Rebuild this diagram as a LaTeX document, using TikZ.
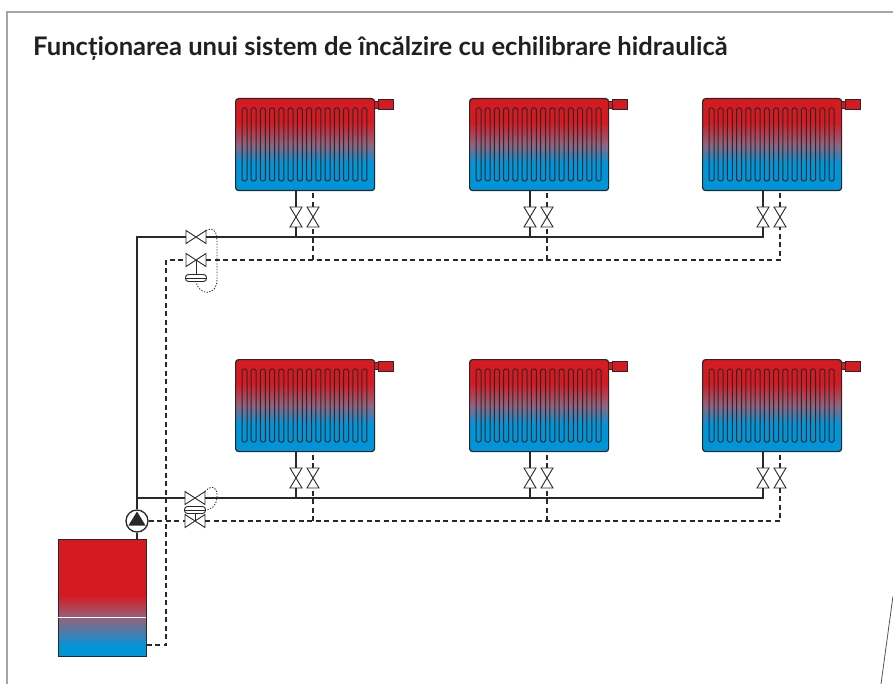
\documentclass[tikz,border=0pt]{standalone}
\usepackage{fontspec}
\setmainfont{Lato}
\usepackage{tikz}

\definecolor{hotred}{RGB}{214,26,34}
\definecolor{coldblue}{RGB}{0,149,216}
\definecolor{mixmauve}{RGB}{145,100,128}
\definecolor{pipegray}{RGB}{40,40,40}
\definecolor{framegray}{RGB}{165,165,165}
\definecolor{titlegray}{RGB}{35,31,32}

% water temperature layers, hot on top
\pgfdeclareverticalshading{radwater}{100bp}{color(0bp)=(coldblue); color(40bp)=(coldblue); color(50bp)=(mixmauve); color(62bp)=(hotred); color(100bp)=(hotred)}
\pgfdeclareverticalshading{tankwater}{100bp}{color(0bp)=(coldblue); color(29bp)=(coldblue); color(41bp)=(mixmauve); color(51bp)=(hotred); color(100bp)=(hotred)}

\tikzset{
    radiator/.style={anchor=north west, draw=pipegray, line width=1.2pt, rounded corners=3pt,
                     shade, shading=radwater, minimum width=139pt, minimum height=92pt, inner sep=0pt},
    fin/.style={draw=pipegray, line width=1pt, rounded corners=1.5pt},
    radcap/.style={draw=pipegray, line width=1pt, fill=hotred},
    valve/.style={minimum width=12pt, minimum height=20pt, inner sep=0pt, outer sep=0pt},
    hvalve/.style={minimum width=20pt, minimum height=13pt, inner sep=0pt, outer sep=0pt},
    valveline/.style={draw=pipegray, line width=0.9pt},
    membrane/.style={draw=pipegray, line width=0.9pt, rounded corners=3pt, fill=white,
                     minimum width=21pt, minimum height=7pt, inner sep=0pt},
    pump/.style={circle, draw=pipegray, line width=1.3pt, fill=white, minimum size=22pt, inner sep=0pt},
    boiler/.style={draw=pipegray, line width=1pt, shade, shading=tankwater,
                   minimum width=88pt, minimum height=117pt, inner sep=0pt},
    supply/.style={draw=pipegray, line width=1.8pt},
    return/.style={draw=pipegray, line width=1.8pt, dash pattern=on 5pt off 3.5pt},
    capillary/.style={draw=pipegray, line width=0.9pt, dash pattern=on 1.2pt off 1.6pt}
}

\begin{document}
\begin{tikzpicture}[x=1pt, y=-1pt]
    \useasboundingbox (0,0) rectangle (893,684);

    % sheet edges
    \draw[framegray, line width=1.4pt] (7,684) -- (7,12) -- (893,12);
    \draw[pipegray!80, line width=0.8pt] (893,596) -- (881,684);

    \node[anchor=base west, inner sep=0pt, text=titlegray,
          font=\fontsize{25.6}{30}\selectfont\bfseries] (title) at (33,56)
          {Funcționarea unui sistem de încălzire cu echilibrare hidraulică};

    % radiators, upper and lower floor
    \begin{scope}[every node/.style={radiator}]
        \node (R11) at (235,98)  {};
        \node (R12) at (469,98)  {};
        \node (R13) at (702,98)  {};
        \node (R21) at (235,359) {};
        \node (R22) at (469,359) {};
        \node (R23) at (702,359) {};
    \end{scope}

    \foreach \r in {R11,R12,R13,R21,R22,R23} {
        \foreach \k in {0,...,13}
            \draw[fin] ([shift={({7+\k*9.23},10)}]\r.north west) rectangle ++(5,73);
        \draw[radcap] ([shift={(-1,3.5)}]\r.north east) rectangle ++(5,7);
        \draw[radcap] ([shift={(3,2)}]\r.north east) rectangle ++(15,10);
    }

    % radiator valves (a = supply, b = return)
    \begin{scope}[every node/.style={valve}]
        \node (v11a) at (296,217) {};
        \node (v11b) at (313,217) {};
        \node (v12a) at (530,217) {};
        \node (v12b) at (547,217) {};
        \node (v13a) at (763,217) {};
        \node (v13b) at (780,217) {};
        \node (v21a) at (296,478) {};
        \node (v21b) at (313,478) {};
        \node (v22a) at (530,478) {};
        \node (v22b) at (547,478) {};
        \node (v23a) at (763,478) {};
        \node (v23b) at (780,478) {};
    \end{scope}

    % balancing valves on each floor
    \begin{scope}[every node/.style={hvalve}]
        \node (bs1) at (196,237) {};
        \node (br1) at (196,260) {};
        \node (bs2) at (195,498) {};
        \node (br2) at (195,521) {};
    \end{scope}

    \foreach \v in {v11a,v11b,v12a,v12b,v13a,v13b,v21a,v21b,v22a,v22b,v23a,v23b}
        \draw[valveline] (\v.north west) -- (\v.south east) -- (\v.south west) -- (\v.north east) -- cycle;
    \foreach \v in {bs1,br1,bs2,br2}
        \draw[valveline] (\v.north west) -- (\v.south east) -- (\v.north east) -- (\v.south west) -- cycle;

    \node[membrane] (m1) at (196,278) {};
    \node[membrane] (m2) at (195,510) {};
    \draw[valveline] (m1.west) -- (m1.east);
    \draw[valveline] (m2.west) -- (m2.east);
    \draw[valveline] (br1.center) -- (m1);
    \draw[valveline] (m2) -- (br2.center);

    % boiler and pump
    \node[boiler] (B) at (102,597.5) {};
    \draw[white, line width=1pt] ([shift={(0.6,19.5)}]B.west) -- ([shift={(-0.6,19.5)}]B.east);
    \node[pump] (P) at (137,521) {};
    \fill[pipegray] ([shift={(-8.5,4.5)}]P.center) -- ([shift={(8.5,4.5)}]P.center)
        -- ([shift={(0,-9.5)}]P.center) -- cycle;

    \coordinate (s1) at (137,237);
    \coordinate (s2) at (137,498);
    \coordinate (r1) at (166,260);
    \coordinate (rb) at (166,645);

    % supply pipes
    \draw[supply] (P |- B.north) -- (P);
    \draw[supply] (P) -- (s1) -- (bs1) -- (v13a |- bs1) -- (v13a) -- (v13a |- R13.south);
    \draw[supply] (v11a |- bs1) -- (v11a) -- (v11a |- R11.south);
    \draw[supply] (v12a |- bs1) -- (v12a) -- (v12a |- R12.south);
    \draw[supply] (s2) -- (bs2) -- (v23a |- bs2) -- (v23a) -- (v23a |- R23.south);
    \draw[supply] (v21a |- bs2) -- (v21a) -- (v21a |- R21.south);
    \draw[supply] (v22a |- bs2) -- (v22a) -- (v22a |- R22.south);

    % return pipes
    \draw[return] (B.east |- rb) -- (rb) -- (r1) -- (br1) -- (v13b |- br1) -- (v13b) -- (v13b |- R13.south);
    \draw[return] (v11b |- br1) -- (v11b) -- (v11b |- R11.south);
    \draw[return] (v12b |- br1) -- (v12b) -- (v12b |- R12.south);
    \draw[return] (P) -- (br2) -- (v23b |- br2) -- (v23b) -- (v23b |- R23.south);
    \draw[return] (v21b |- br2) -- (v21b) -- (v21b |- R21.south);
    \draw[return] (v22b |- br2) -- (v22b) -- (v22b |- R22.south);

    % capillary lines to the differential pressure regulators
    \draw[capillary] (bs1.north east) .. controls (216,226) and (217,234) .. (217,244)
        -- (217,280) .. controls (217,296) and (199,296) .. (m1.south);
    \draw[capillary] (bs2.north east) .. controls (213,483) and (218,489) .. (217,498)
        .. controls (216,507) and (210,510) .. (m2.east);
\end{tikzpicture}
\end{document}
